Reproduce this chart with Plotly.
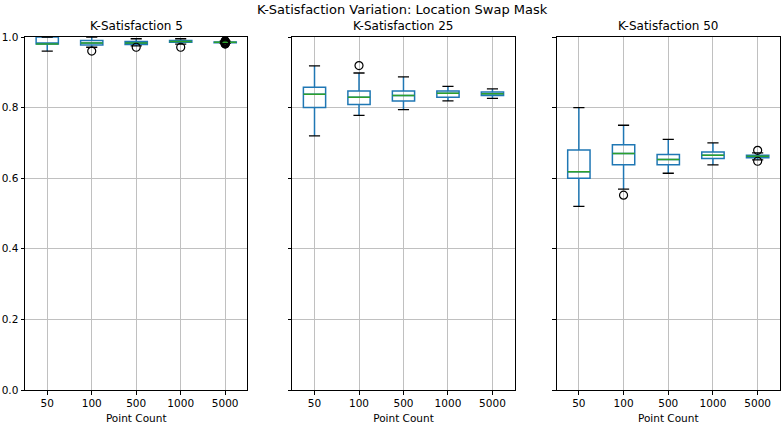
import plotly.graph_objects as go

categories = ["50", "100", "500", "1000", "5000"]
panel_titles = ["K-Satisfaction 5", "K-Satisfaction 25", "K-Satisfaction 50"]

# per panel: stats per category
q1 = [
    [0.980, 0.977, 0.979, 0.985, 0.984],
    [0.800, 0.809, 0.819, 0.829, 0.834],
    [0.600, 0.638, 0.638, 0.656, 0.658],
]
median = [
    [0.980, 0.983, 0.983, 0.987, 0.985],
    [0.838, 0.829, 0.834, 0.841, 0.839],
    [0.618, 0.670, 0.653, 0.665, 0.662],
]
q3 = [
    [1.000, 0.990, 0.987, 0.990, 0.986],
    [0.858, 0.847, 0.847, 0.847, 0.844],
    [0.680, 0.695, 0.667, 0.674, 0.665],
]
lower = [
    [0.960, 0.971, 0.975, 0.980, 0.982],
    [0.720, 0.778, 0.794, 0.819, 0.826],
    [0.520, 0.569, 0.614, 0.638, 0.652],
]
upper = [
    [1.000, 1.000, 0.995, 0.995, 0.988],
    [0.918, 0.898, 0.887, 0.860, 0.853],
    [0.800, 0.750, 0.710, 0.700, 0.672],
]
# outliers: (category index, value) per panel
outliers = [
    [(1, 0.960), (2, 0.971), (3, 0.971), (4, 0.980), (4, 0.981), (4, 0.982),
     (4, 0.983), (4, 0.984), (4, 0.986), (4, 0.987), (4, 0.988), (4, 0.989)],
    [(1, 0.919)],
    [(1, 0.552), (4, 0.679), (4, 0.648)],
]

C0 = "#1f77b4"
C2 = "#2ca02c"
BOXW = 0.5
CAPW = 0.25

fig = go.Figure()
xaxes = ["x", "x2", "x3"]
yaxes = ["y", "y2", "y3"]
positions = list(range(1, len(categories) + 1))

for p in range(3):
    xa, ya = xaxes[p], yaxes[p]
    fig.add_trace(go.Box(
        x=positions, q1=q1[p], median=median[p], q3=q3[p],
        lowerfence=lower[p], upperfence=upper[p],
        width=BOXW, whiskerwidth=0, boxpoints=False,
        line=dict(color=C0, width=1.5), fillcolor="rgba(0,0,0,0)",
        xaxis=xa, yaxis=ya, showlegend=False, hoverinfo="skip",
    ))
    # caps
    cx, cy = [], []
    for i, pos in enumerate(positions):
        for v in (lower[p][i], upper[p][i]):
            cx += [pos - CAPW / 2, pos + CAPW / 2, None]
            cy += [v, v, None]
    fig.add_trace(go.Scatter(x=cx, y=cy, mode="lines", line=dict(color="black", width=1.3),
                             xaxis=xa, yaxis=ya, showlegend=False, hoverinfo="skip"))
    # medians
    mx, my = [], []
    for i, pos in enumerate(positions):
        mx += [pos - BOXW / 2, pos + BOXW / 2, None]
        my += [median[p][i], median[p][i], None]
    fig.add_trace(go.Scatter(x=mx, y=my, mode="lines", line=dict(color=C2, width=1.5),
                             xaxis=xa, yaxis=ya, showlegend=False, hoverinfo="skip"))
    # outliers
    ox = [positions[i] for i, _ in outliers[p]]
    oy = [v for _, v in outliers[p]]
    fig.add_trace(go.Scatter(x=ox, y=oy, mode="markers",
                             marker=dict(symbol="circle-open", size=8, color="black", line=dict(width=1.2)),
                             xaxis=xa, yaxis=ya, showlegend=False, hoverinfo="skip"))

domains = [(0.0, 0.2946), (0.354, 0.6486), (0.704, 1.0)]
font = dict(family="DejaVu Sans", size=10.5, color="black")
for p in range(3):
    sfx = "" if p == 0 else str(p + 1)
    fig.layout["xaxis" + sfx] = dict(
        domain=domains[p], range=[0.5, 5.5], tickvals=positions, ticktext=categories,
        showgrid=True, gridcolor="#c0c0c0", gridwidth=1, zeroline=False,
        showline=True, mirror=True, linecolor="black", linewidth=1,
        ticks="outside", ticklen=3.5, tickcolor="black", tickfont=font,
        title=dict(text="Point Count", font=font, standoff=6), anchor="y" + sfx,
    )
    fig.layout["yaxis" + sfx] = dict(
        domain=[0, 1], range=[0, 1], tickvals=[0, 0.2, 0.4, 0.6, 0.8, 1.0],
        ticktext=["0.0", "0.2", "0.4", "0.6", "0.8", "1.0"], showticklabels=(p == 0),
        showgrid=True, gridcolor="#c0c0c0", gridwidth=1, zeroline=False,
        showline=True, mirror=True, linecolor="black", linewidth=1,
        ticks="outside", ticklen=3.5, tickcolor="black", tickfont=font, anchor="x" + sfx,
    )
    fig.add_annotation(text=panel_titles[p], xref="x%s domain" % sfx, yref="paper",
                       x=0.5, y=1.0, yshift=2, xanchor="center", yanchor="bottom",
                       showarrow=False, font=dict(family="DejaVu Sans", size=12, color="black"))

fig.add_annotation(text="K-Satisfaction Variation: Location Swap Mask", xref="paper", yref="paper",
                   x=0.5, y=1.0, yshift=18, xanchor="center", yanchor="bottom", showarrow=False,
                   font=dict(family="DejaVu Sans", size=13, color="black"))

fig.update_layout(
    width=783, height=424, margin=dict(l=24, r=2, t=37, b=33),
    plot_bgcolor="white", paper_bgcolor="white", showlegend=False,
)

fig.write_html("out.html")
